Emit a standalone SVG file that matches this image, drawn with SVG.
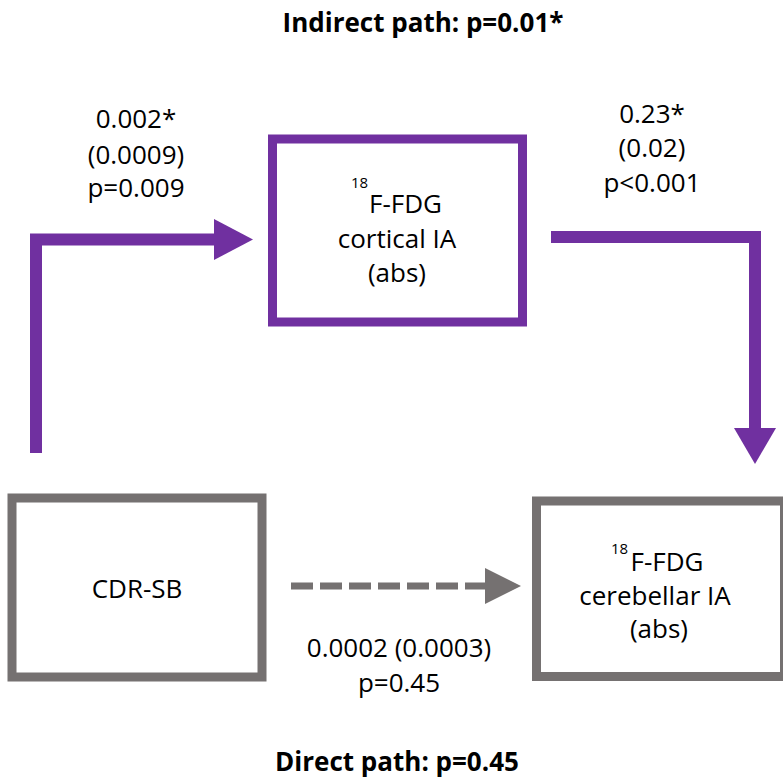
<svg xmlns="http://www.w3.org/2000/svg" width="783" height="782" viewBox="0 0 783 782">
  <style>
    .lbl { font-family: "Open Sans", "Liberation Sans", sans-serif; font-size: 26px; fill: #000; text-anchor: middle; }
    .sup { font-family: "Open Sans", "Liberation Sans", sans-serif; font-size: 15px; fill: #000; }
    .title { font-family: "Open Sans", "Liberation Sans", sans-serif; font-size: 26px; font-weight: bold; fill: #000; text-anchor: middle; }
    .box-purple { fill: #fff; stroke: #7030A0; stroke-width: 9; }
    .box-grey { fill: #fff; stroke: #757171; stroke-width: 9; }
    .path-purple { fill: none; stroke: #7030A0; stroke-width: 12; stroke-linejoin: miter; }
    .path-grey { fill: none; stroke: #757171; stroke-width: 7; stroke-dasharray: 22 7; }
  </style>
  <rect width="783" height="782" fill="#fff"/>

  <text class="title" x="423" y="32">Indirect path: p=0.01*</text>
  <text class="title" x="397" y="771">Direct path: p=0.45</text>

  <g id="connectors">
    <!-- CDR-SB to cortical IA -->
    <polyline class="path-purple" points="36,453 36,239.5 215,239.5"/>
    <polygon fill="#7030A0" points="214,219 253,239.5 214,260"/>
    <!-- cortical IA to cerebellar IA -->
    <polyline class="path-purple" points="551,237 755,237 755,429"/>
    <polygon fill="#7030A0" points="734,428 776,428 755,464"/>
    <!-- direct path, dashed -->
    <line class="path-grey" x1="291" y1="586" x2="487" y2="586"/>
    <polygon fill="#757171" points="485,568 521,586 485,604"/>
  </g>

  <g id="label-a">
    <text class="lbl" x="136" y="128">0.002*</text>
    <text class="lbl" x="136" y="164">(0.0009)</text>
    <text class="lbl" x="136" y="197">p=0.009</text>
  </g>
  <g id="label-b">
    <text class="lbl" x="652" y="123">0.23*</text>
    <text class="lbl" x="652" y="157">(0.02)</text>
    <text class="lbl" x="652" y="192">p&lt;0.001</text>
  </g>
  <g id="label-c">
    <text class="lbl" x="399" y="657">0.0002 (0.0003)</text>
    <text class="lbl" x="399" y="692">p=0.45</text>
  </g>

  <g id="cortical">
    <rect class="box-purple" x="272.5" y="139" width="250" height="183"/>
    <text class="sup" x="351" y="188">18</text>
    <text class="lbl" x="405.5" y="213">F-FDG</text>
    <text class="lbl" x="397" y="248">cortical IA</text>
    <text class="lbl" x="397" y="282">(abs)</text>
  </g>

  <g id="cdr-sb">
    <rect class="box-grey" x="12" y="498" width="250" height="179"/>
    <text class="lbl" x="137" y="598">CDR-SB</text>
  </g>

  <g id="cerebellar">
    <rect class="box-grey" x="536.5" y="501" width="248" height="175.5"/>
    <text class="sup" x="611" y="554">18</text>
    <text class="lbl" x="667" y="571">F-FDG</text>
    <text class="lbl" x="655" y="605">cerebellar IA</text>
    <text class="lbl" x="659" y="638">(abs)</text>
  </g>
</svg>
